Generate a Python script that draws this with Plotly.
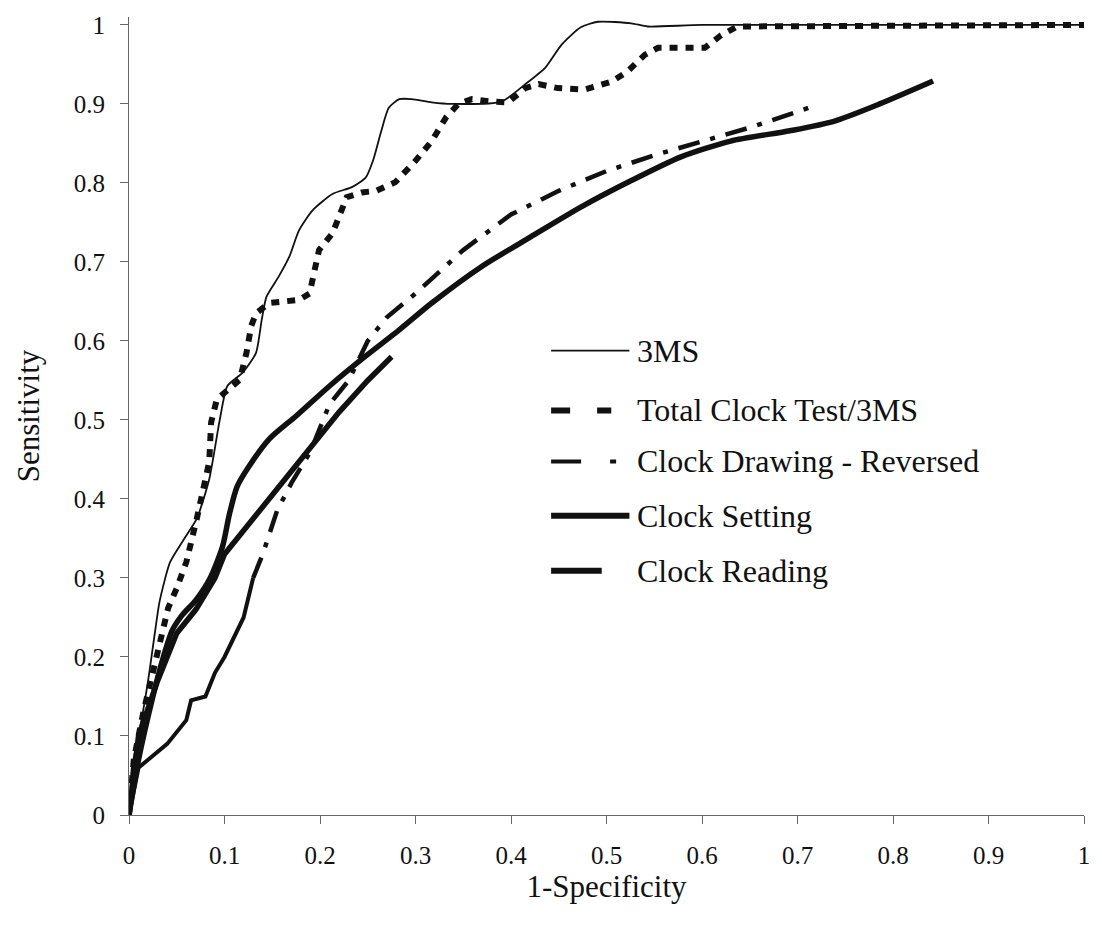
import plotly.graph_objects as go

# ROC curves: 1-Specificity (x) vs Sensitivity (y)
ms3_x = [0, 0.003, 0.01, 0.02, 0.027, 0.032, 0.043, 0.058, 0.071, 0.084, 0.095, 0.103, 0.119,
         0.133, 0.139, 0.144, 0.157, 0.168, 0.178, 0.192, 0.213, 0.234, 0.248, 0.256, 0.264,
         0.272, 0.283, 0.296, 0.317, 0.338, 0.39, 0.415, 0.436, 0.453, 0.473, 0.491, 0.526,
         0.543, 0.6, 1.0]
ms3_y = [0, 0.06, 0.1, 0.17, 0.23, 0.27, 0.32, 0.35, 0.375, 0.425, 0.5, 0.543, 0.56,
         0.585, 0.627, 0.656, 0.682, 0.707, 0.74, 0.765, 0.786, 0.795, 0.807, 0.83, 0.865,
         0.895, 0.906, 0.906, 0.902, 0.9, 0.903, 0.925, 0.946, 0.975, 0.997, 1.004, 1.002,
         0.998, 1.0, 1.0]

total_x = [0, 0.005, 0.015, 0.025, 0.036, 0.041, 0.05, 0.06, 0.071, 0.077, 0.084, 0.086, 0.092,
           0.116, 0.123, 0.128, 0.133, 0.147, 0.178, 0.189, 0.194, 0.199, 0.213, 0.22, 0.228,
           0.244, 0.259, 0.279, 0.3, 0.317, 0.332, 0.345, 0.359, 0.38, 0.397, 0.415, 0.429,
           0.449, 0.477, 0.505, 0.522, 0.54, 0.554, 0.578, 0.603, 0.62, 0.637, 1.0]
total_y = [0, 0.07, 0.13, 0.18, 0.229, 0.262, 0.287, 0.32, 0.375, 0.409, 0.447, 0.497, 0.526,
           0.551, 0.585, 0.619, 0.635, 0.648, 0.652, 0.66, 0.69, 0.715, 0.736, 0.757, 0.782,
           0.788, 0.79, 0.801, 0.828, 0.853, 0.883, 0.9, 0.906, 0.903, 0.902, 0.92, 0.925,
           0.92, 0.918, 0.928, 0.941, 0.962, 0.971, 0.971, 0.971, 0.987, 0.998, 1.0]

drawing_x = [0, 0.01, 0.02, 0.04, 0.06, 0.065, 0.08, 0.09, 0.1, 0.12, 0.13, 0.14, 0.155, 0.17,
             0.19, 0.21, 0.23, 0.25, 0.27, 0.3, 0.35, 0.4, 0.45, 0.5, 0.55, 0.6, 0.65, 0.7, 0.722]
drawing_y = [0, 0.06, 0.07, 0.09, 0.12, 0.145, 0.15, 0.18, 0.2, 0.25, 0.3, 0.33, 0.385, 0.42,
             0.46, 0.52, 0.55, 0.6, 0.63, 0.66, 0.715, 0.76, 0.79, 0.815, 0.835, 0.852, 0.87,
             0.89, 0.9]
# points up to this index are dense enough that the curve reads as a continuous line
drawing_solid_end = 10

setting_x = [0, 0.01, 0.025, 0.036, 0.045, 0.055, 0.07, 0.085, 0.098, 0.105, 0.113, 0.125,
             0.147, 0.175, 0.21, 0.248, 0.283, 0.317, 0.369, 0.421, 0.474, 0.526, 0.578, 0.63,
             0.692, 0.738, 0.786, 0.842]
setting_y = [0, 0.07, 0.15, 0.2, 0.233, 0.252, 0.272, 0.3, 0.34, 0.38, 0.415, 0.44,
             0.476, 0.505, 0.543, 0.581, 0.614, 0.648, 0.694, 0.732, 0.77, 0.803, 0.833, 0.853,
             0.866, 0.878, 0.9, 0.929]

reading_x = [0, 0.01, 0.03, 0.05, 0.07, 0.09, 0.1, 0.12, 0.14, 0.16, 0.18, 0.2, 0.22, 0.25, 0.275]
reading_y = [0, 0.1, 0.17, 0.23, 0.26, 0.3, 0.33, 0.36, 0.39, 0.42, 0.45, 0.48, 0.51, 0.55, 0.58]

tick_vals = [0, 0.1, 0.2, 0.3, 0.4, 0.5, 0.6, 0.7, 0.8, 0.9, 1]
tick_text = ["0", "0.1", "0.2", "0.3", "0.4", "0.5", "0.6", "0.7", "0.8", "0.9", "1"]

legend_names = ["3MS", "Total Clock Test/3MS", "Clock Drawing - Reversed",
                "Clock Setting", "Clock Reading"]

SERIF = "Liberation Serif, Times New Roman, serif"
INK = "#111111"

fig = go.Figure()
fig.add_trace(go.Scatter(x=drawing_x[:drawing_solid_end + 1], y=drawing_y[:drawing_solid_end + 1],
                         mode="lines", line=dict(color=INK, width=4),
                         name=legend_names[2], showlegend=False))
fig.add_trace(go.Scatter(x=drawing_x[drawing_solid_end:], y=drawing_y[drawing_solid_end:],
                         mode="lines",
                         line=dict(color=INK, width=4.5, dash="22px,11px,5px,11px"),
                         name=legend_names[2]))
fig.add_trace(go.Scatter(x=reading_x, y=reading_y, mode="lines",
                         line=dict(color=INK, width=5.5), name=legend_names[4]))
fig.add_trace(go.Scatter(x=setting_x, y=setting_y, mode="lines",
                         line=dict(color=INK, width=5.5, shape="spline", smoothing=0.7),
                         name=legend_names[3]))
fig.add_trace(go.Scatter(x=total_x, y=total_y, mode="lines",
                         line=dict(color=INK, width=6, dash="8px,8px"),
                         name=legend_names[1]))
fig.add_trace(go.Scatter(x=ms3_x, y=ms3_y, mode="lines",
                         line=dict(color=INK, width=1.8, shape="spline", smoothing=0.6),
                         name=legend_names[0]))

# Hand-placed legend inside the plot area (paper coordinates)
legend_rows = [
    (0.582, 0.442, 0.524, dict(color=INK, width=1.8)),
    (0.507, 0.442, 0.505, dict(color=INK, width=6, dash="19px,27px")),
    (0.443, 0.442, 0.512, dict(color=INK, width=4, dash="30px,29px,6px,30px")),
    (0.375, 0.442, 0.524, dict(color=INK, width=6)),
    (0.306, 0.442, 0.495, dict(color=INK, width=6)),
]
for (yy, x0, x1, ln), name in zip(legend_rows, legend_names):
    fig.add_shape(type="line", xref="paper", yref="paper", x0=x0, x1=x1, y0=yy, y1=yy,
                  line=ln)
    fig.add_annotation(xref="paper", yref="paper", x=0.530, y=yy, text=name,
                       showarrow=False, xanchor="left", yanchor="middle",
                       font=dict(family=SERIF, size=32, color=INK))

axis_common = dict(
    tickvals=tick_vals, ticktext=tick_text, ticks="outside", ticklen=8, tickwidth=1,
    tickcolor="#666666", showline=True, linecolor="#666666", linewidth=1.2,
    showgrid=False, zeroline=False, tickfont=dict(family=SERIF, size=25, color=INK),
    ticklabelstandoff=10,
)

fig.update_layout(
    width=1102, height=930,
    margin=dict(l=129, r=14, t=12, b=115),
    paper_bgcolor="white", plot_bgcolor="white",
    showlegend=False,
    xaxis=dict(range=[0, 1], title=dict(text="1-Specificity", standoff=0,
                                        font=dict(family=SERIF, size=31, color=INK)),
               **axis_common),
    yaxis=dict(range=[0, 1.01], title=dict(text="Sensitivity", standoff=24,
                                           font=dict(family=SERIF, size=31, color=INK)),
               **axis_common),
)

fig.write_html("out.html")
